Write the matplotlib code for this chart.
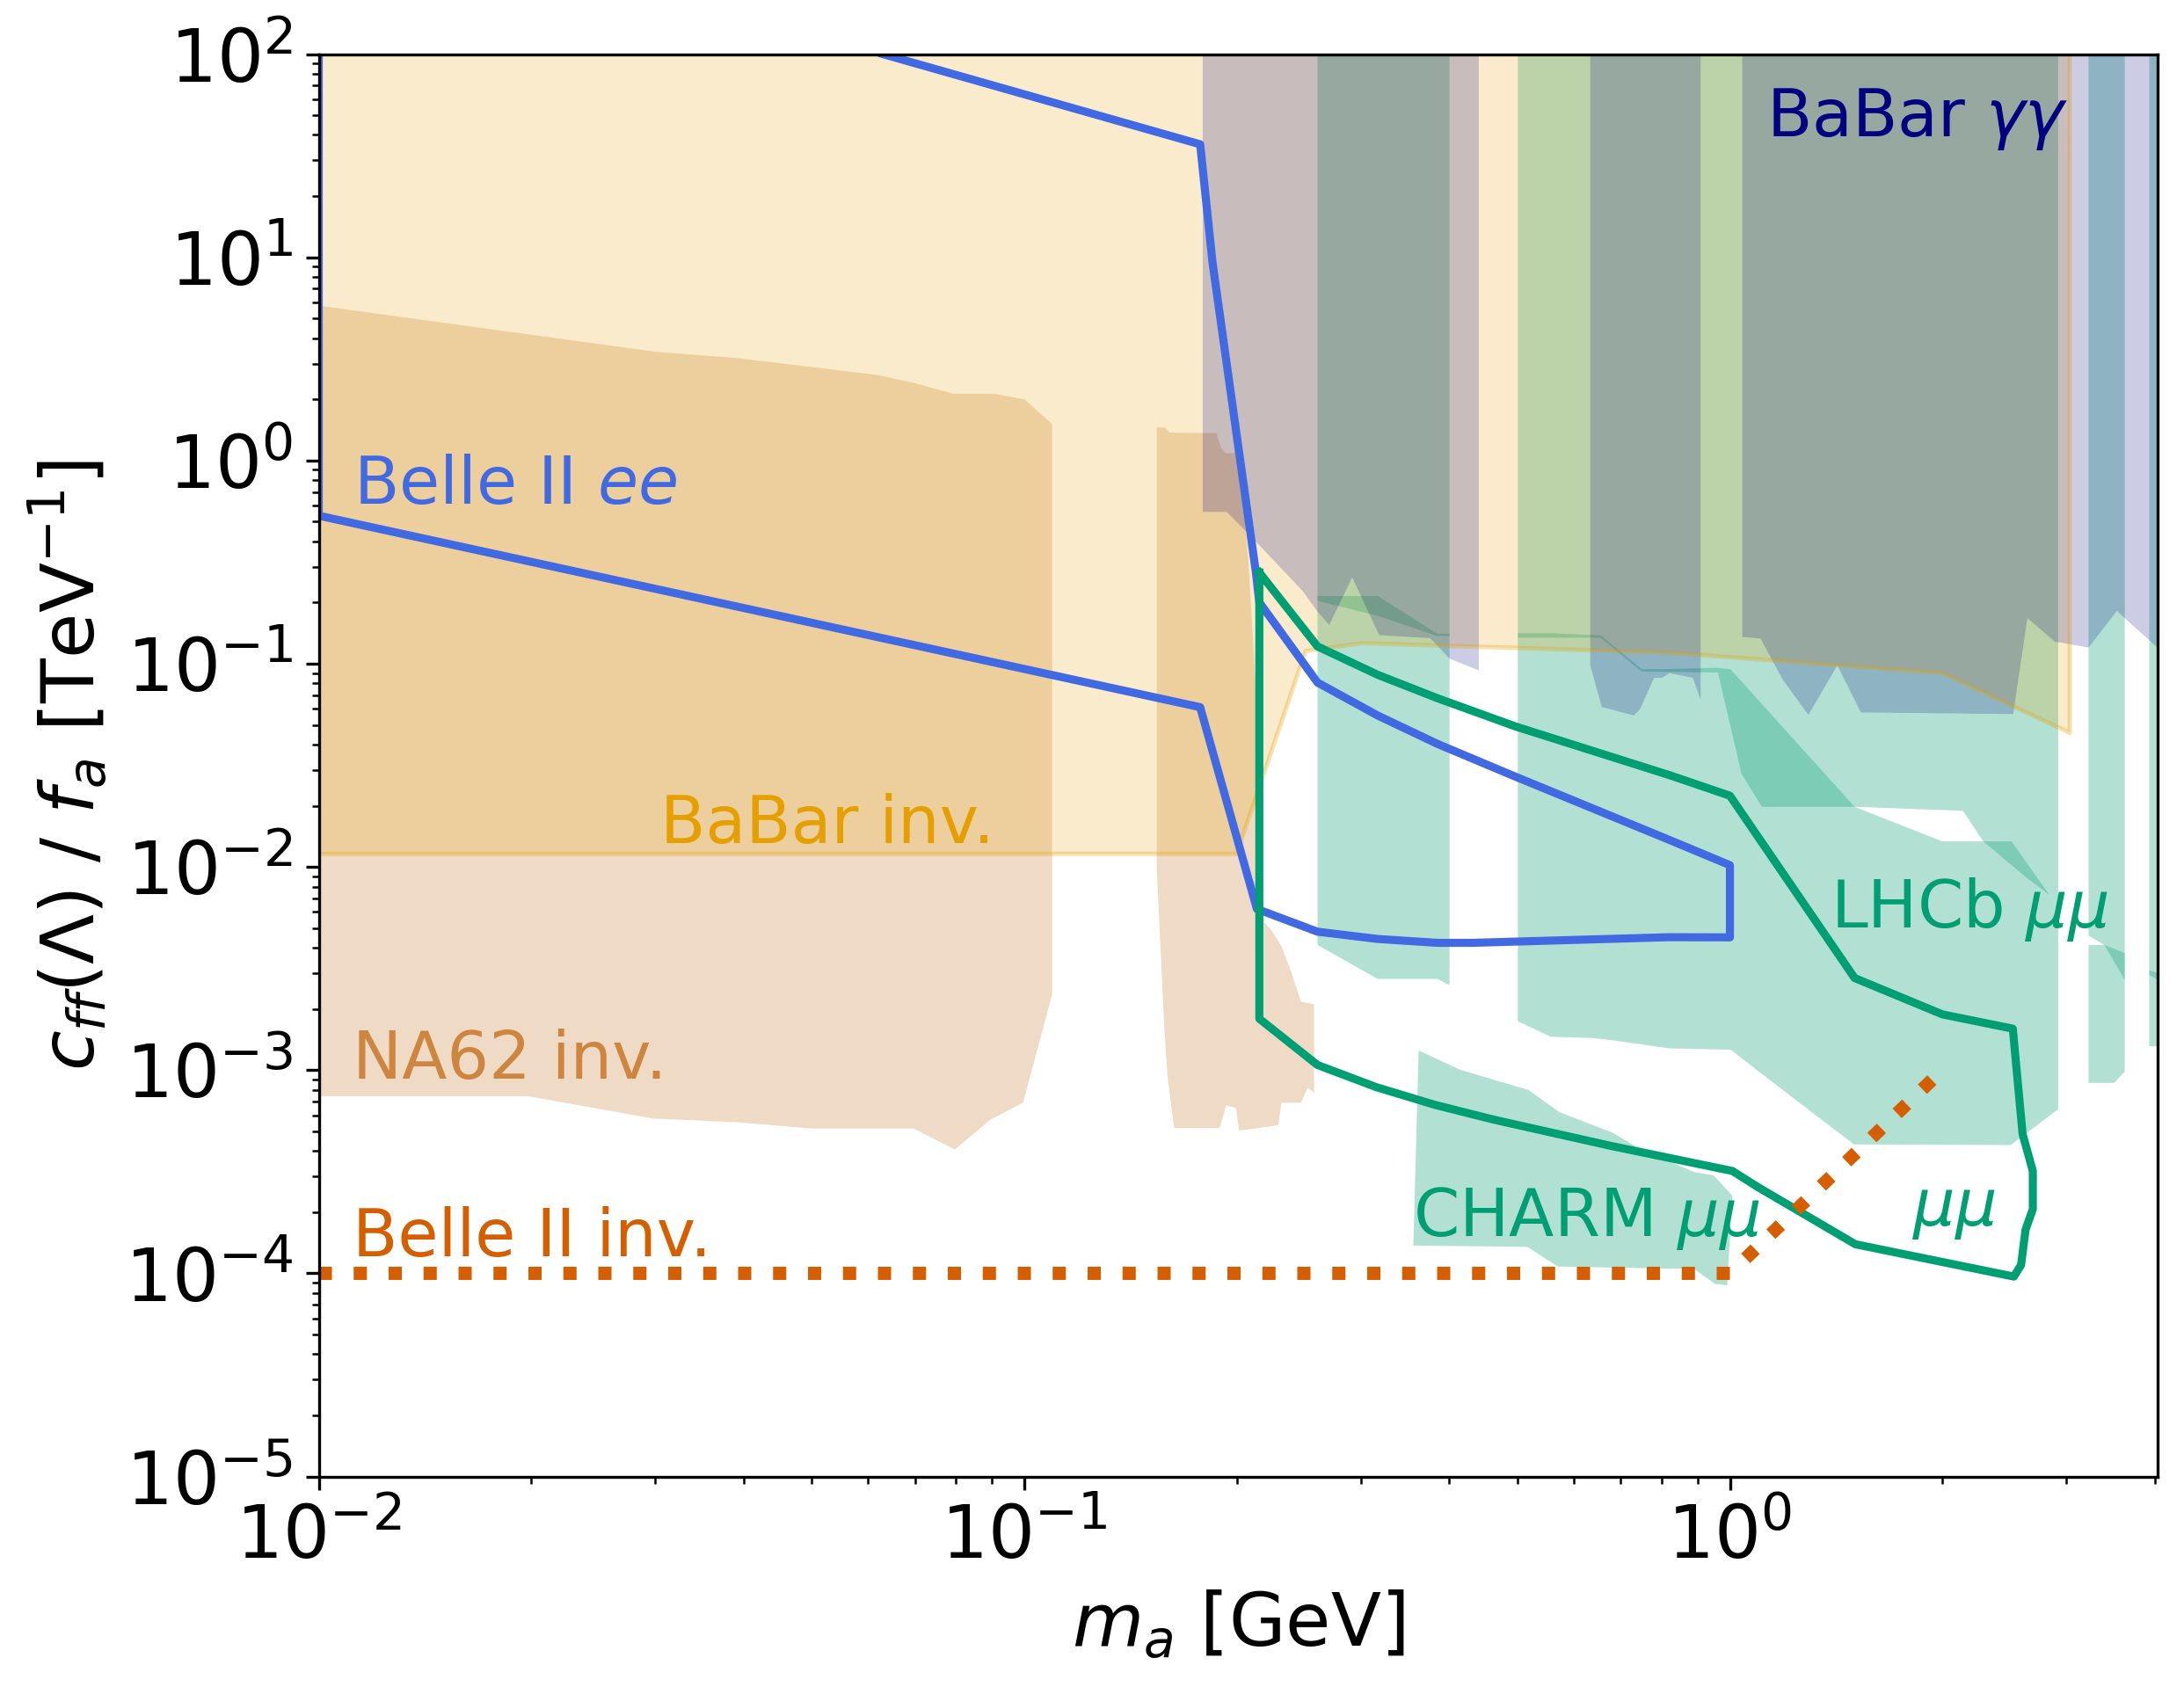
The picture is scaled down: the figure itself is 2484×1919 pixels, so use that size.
import numpy as np
import matplotlib
matplotlib.use("Agg")
import matplotlib.pyplot as plt
from matplotlib.ticker import LogLocator, NullFormatter
from matplotlib.colors import to_rgba

# ------------------------------------------------------------------ data
# BaBar invisible: lower edge of excluded region (excluded up to the top)
babar_inv_x = [0.01, 0.1999, 0.2504, 0.3012, 0.8206, 2.001, 3.032]
babar_inv_y = [0.0116, 0.0116, 0.1155, 0.1262, 0.1133, 0.0899, 0.0457]

# NA62 invisible: two closed contours
na62_a_x = [0.01, 0.03016, 0.03922, 0.0617, 0.0697, 0.0793, 0.0905, 0.1000, 0.1095,
            0.1095, 0.0996, 0.0895, 0.0797, 0.0697, 0.04995, 0.03922, 0.02977, 0.01977, 0.01]
na62_a_y = [5.78, 3.42, 3.19, 2.64, 2.41, 2.13, 2.13, 2.0, 1.51,
            2.36e-3, 6.93e-4, 5.70e-4, 4.07e-4, 5.16e-4, 5.16e-4, 5.54e-4, 5.78e-4, 7.45e-4, 7.45e-4]
na62_b_x = [0.1541, 0.1583, 0.1606, 0.1872, 0.1899, 0.1927, 0.1983, 0.2012, 0.2075, 0.2132,
            0.2148, 0.2242, 0.2314, 0.2388, 0.2466, 0.2574, 0.2574, 0.2520, 0.2466, 0.2314,
            0.2291, 0.2148, 0.2016, 0.1995, 0.1932, 0.1892, 0.1631, 0.1596, 0.1579, 0.1541]
na62_b_y = [1.454, 1.454, 1.372, 1.361, 1.160, 1.086, 1.086, 1.142, 0.338, 0.0697,
            5.75e-3, 4.84e-3, 4.07e-3, 3.06e-3, 2.17e-3, 2.11e-3, 7.75e-4, 8.21e-4, 6.91e-4, 6.91e-4,
            5.36e-4, 5.19e-4, 5.04e-4, 6.53e-4, 6.71e-4, 5.19e-4, 5.19e-4, 9.20e-4, 1.63e-3, 9.63e-3]

# BaBar gamma gamma: lower edges of three excluded bands (excluded up to the top)
bgg_a_x = [0.1790, 0.1935, 0.2070, 0.2481, 0.2603, 0.2705, 0.2915, 0.3184, 0.3762, 0.4005, 0.4406]
bgg_a_y = [0.559, 0.559, 0.4423, 0.2275, 0.1803, 0.1551, 0.2660, 0.1382, 0.1335, 0.1059, 0.0927]
bgg_b_x = [0.6339, 0.6583, 0.7308, 0.7457, 0.7809, 0.8015, 0.8206, 0.8860, 0.9089]
bgg_b_y = [0.0983, 0.0612, 0.0556, 0.0597, 0.0852, 0.0852, 0.0899, 0.0852, 0.0664]
bgg_c_x = [1.041, 1.105, 1.187, 1.292, 1.420, 1.533, 2.520, 2.640, 2.888, 3.223, 3.536, 3.627, 3.929, 4.04]
bgg_c_y = [0.1354, 0.1331, 0.0838, 0.0560, 0.0983, 0.0576, 0.0565, 0.1676, 0.1284, 0.1201,
           0.1820, 0.1676, 0.1306, 0.1194]

# LHCb mu mu, upper part (lower edges, excluded up to the top)
lhcb_u1_x = [0.2603, 0.3168, 0.3851, 0.4005]
lhcb_u1_y = [0.2040, 0.1719, 0.1368, 0.1368]
lhcb_u2_x = [0.5005, 0.6561, 0.7498, 0.8206, 0.9616, 1.0385, 1.110, 1.502, 2.139, 2.286, 2.612, 2.836, 2.919]
lhcb_u2_y = [0.1343, 0.1343, 0.0915, 0.0911, 0.0905, 0.0287, 0.01976, 0.01976, 0.01888, 0.01335,
             9.04e-3, 7.29e-3, 6.71e-3]
lhcb_u3_x = [3.223, 3.393, 3.627]
lhcb_u3_y = [4.59e-3, 4.13e-3, 2.78e-3]
lhcb_u4_x = [3.929, 4.04]
lhcb_u4_y = [2.94e-3, 2.78e-3]

# LHCb mu mu, lower part (upper and lower edges)
lhcb_l1_xhi = [0.2603, 0.3168, 0.3851, 0.4005]
lhcb_l1_yhi = [0.2153, 0.2153, 0.1403, 0.1403]
lhcb_l1_xlo = [0.2603, 0.3168, 0.3851, 0.4005]
lhcb_l1_ylo = [4.13e-3, 2.81e-3, 2.81e-3, 2.62e-3]
lhcb_l2_xhi = [0.5005, 0.5567, 0.6561, 0.7498, 0.8206, 0.9568, 1.002, 1.502, 2.001, 2.507, 2.836, 2.919]
lhcb_l2_yhi = [0.1414, 0.1414, 0.1378, 0.0939, 0.0941, 0.0955, 0.0939, 0.01976, 0.01335, 0.01335,
               7.29e-3, 6.71e-3]
lhcb_l2_xlo = [0.5005, 0.5570, 0.6366, 0.6841, 0.8206, 1.003, 1.093, 1.499, 2.500, 2.919]
lhcb_l2_ylo = [1.74e-3, 1.46e-3, 1.44e-3, 1.40e-3, 1.28e-3, 1.26e-3, 9.98e-4, 4.31e-4, 4.28e-4, 6.42e-4]
lhcb_l3_xhi = [3.223, 3.393, 3.627]
lhcb_l3_yhi = [4.13e-3, 4.13e-3, 3.77e-3]
lhcb_l3_xlo = [3.223, 3.505, 3.615, 3.627]
lhcb_l3_ylo = [8.66e-4, 8.66e-4, 9.74e-4, 9.74e-4]
lhcb_l4_xhi = [3.929, 4.04]
lhcb_l4_yhi = [3.1e-3, 3.0e-3]
lhcb_l4_xlo = [3.929, 4.04]
lhcb_l4_ylo = [1.31e-3, 1.31e-3]

# CHARM mu mu contour
charm_x = [0.3621, 0.4140, 0.5186, 0.5732, 0.6811, 0.7457, 0.8902, 0.9474, 1.008,
           0.9911, 0.9517, 0.8902, 0.5703, 0.5160, 0.3559]
charm_y = [1.25e-3, 1.006e-3, 7.98e-4, 6.21e-4, 4.93e-4, 4.10e-4, 3.15e-4, 3.04e-4, 2.41e-4,
           8.73e-5, 8.88e-5, 1.05e-4, 1.08e-4, 1.35e-4, 1.37e-4]

# Belle II ee projection (open contour)
belle_ee_x = [0.01, 0.01, 0.1775, 0.2136, 0.2603, 0.3168, 0.3851, 0.4311, 0.8206, 1.0, 1.0,
              0.8206, 0.4977, 0.3851, 0.3168, 0.2603, 0.2153, 0.2128, 0.1848, 0.1775, 0.063]
belle_ee_y = [100, 0.535, 0.0611, 6.21e-3, 4.80e-3, 4.42e-3, 4.23e-3, 4.23e-3, 4.51e-3, 4.5e-3, 0.0102,
              0.01358, 0.02772, 0.0403, 0.0556, 0.0808, 0.2004, 0.285, 9.43, 35.97, 100]

# mu mu projection (closed contour)
mumu_x = [0.2153, 0.2603, 0.3168, 0.3851, 0.4977, 0.8206, 1.0, 1.502, 2.001, 2.517, 2.599, 2.687,
          2.687, 2.624, 2.586, 2.526, 1.506, 1.093, 1.008, 0.6776, 0.4622, 0.3817, 0.3152, 0.2603,
          0.2153, 0.2153]
mumu_y = [0.2811, 0.1216, 0.0882, 0.0676, 0.0490, 0.0283, 0.0224, 2.84e-3, 1.88e-3, 1.60e-3,
          4.84e-4, 3.19e-4, 2.07e-4, 1.64e-4, 1.10e-4, 9.64e-5, 1.39e-4, 2.67e-4, 3.19e-4, 4.24e-4,
          5.71e-4, 6.75e-4, 8.25e-4, 1.06e-3, 1.79e-3, 0.2811]

# Belle II invisible projection
belle_inv_x = [0.01, 1.0, 2.0]
belle_inv_y = [1e-4, 1e-4, 1e-3]

# ------------------------------------------------------------------ style
C_ORANGE = "#E69F00"
C_PERU = "#CD853F"
C_TEAL = "#009E73"
C_NAVY = "#000080"
C_BLUE = "#4169E1"
C_VERM = "#D55E00"
TOP = 1e3

plt.rcParams["font.family"] = ["DejaVu Sans"]
plt.rcParams["mathtext.fontset"] = "dejavusans"

fig = plt.figure(figsize=(2484 / 300, 1919 / 300), dpi=300)
ax = fig.add_axes([0.14594, 0.12475, 0.84206, 0.8432])
ax.set_xscale("log")
ax.set_yscale("log")


def upper_band(x, y, color, alpha):
    xs = list(x) + [x[-1], x[0]]
    ys = list(y) + [TOP, TOP]
    ax.fill(xs, ys, color=color, alpha=alpha, lw=0)


def closed_band(xhi, yhi, xlo, ylo, color, alpha):
    xs = list(xhi) + list(xlo[::-1])
    ys = list(yhi) + list(ylo[::-1])
    ax.fill(xs, ys, color=color, alpha=alpha, lw=0)


# NA62 invisible
ax.fill(na62_a_x, na62_a_y, color=C_PERU, alpha=0.3, lw=0)
ax.fill(na62_b_x, na62_b_y, color=C_PERU, alpha=0.3, lw=0)

# LHCb mu mu
for ux, uy in [(lhcb_u1_x, lhcb_u1_y), (lhcb_u2_x, lhcb_u2_y),
               (lhcb_u3_x, lhcb_u3_y), (lhcb_u4_x, lhcb_u4_y)]:
    upper_band(ux, uy, C_TEAL, 0.3)
for xh, yh, xl, yl in [(lhcb_l1_xhi, lhcb_l1_yhi, lhcb_l1_xlo, lhcb_l1_ylo),
                       (lhcb_l2_xhi, lhcb_l2_yhi, lhcb_l2_xlo, lhcb_l2_ylo),
                       (lhcb_l3_xhi, lhcb_l3_yhi, lhcb_l3_xlo, lhcb_l3_ylo),
                       (lhcb_l4_xhi, lhcb_l4_yhi, lhcb_l4_xlo, lhcb_l4_ylo)]:
    closed_band(xh, yh, xl, yl, C_TEAL, 0.3)

# CHARM mu mu
ax.fill(charm_x, charm_y, color=C_TEAL, alpha=0.3, lw=0)

# BaBar invisible
upper_band(babar_inv_x, babar_inv_y, C_ORANGE, 0.2)
ax.plot(babar_inv_x + [babar_inv_x[-1]], babar_inv_y + [TOP],
        color=to_rgba(C_ORANGE, 0.3), lw=1.2)

# BaBar gamma gamma
for bx, by in [(bgg_a_x, bgg_a_y), (bgg_b_x, bgg_b_y), (bgg_c_x, bgg_c_y)]:
    upper_band(bx, by, C_NAVY, 0.2)

# projections
ax.plot(belle_ee_x, belle_ee_y, color=C_BLUE, lw=2.2)
ax.plot(mumu_x, mumu_y, color=C_TEAL, lw=2.2)
ax.plot(belle_inv_x, belle_inv_y, color=C_VERM, lw=3.6, ls=":")

# labels
fs_t = 18
ax.text(0.0112, 0.6105, r"Belle II $ee$", color=C_BLUE, fontsize=fs_t, va="baseline")
ax.text(0.03052, 0.0131, "BaBar inv.", color=C_ORANGE, fontsize=fs_t, va="baseline")
ax.text(0.01116, 9.08e-4, "NA62 inv.", color=C_PERU, fontsize=fs_t, va="baseline")
ax.text(0.01117, 1.214e-4, "Belle II inv.", color=C_VERM, fontsize=fs_t, va="baseline")
ax.text(1.125, 39.56, r"BaBar $\gamma\gamma$", color=C_NAVY, fontsize=fs_t, va="baseline")
ax.text(1.39, 5.02e-3, r"LHCb $\mu\mu$", color=C_TEAL, fontsize=fs_t, va="baseline")
ax.text(0.355, 1.524e-4, r"CHARM $\mu\mu$", color=C_TEAL, fontsize=fs_t, va="baseline")
ax.text(1.815, 1.713e-4, r"$\mu\mu$", color=C_TEAL, fontsize=fs_t, va="baseline")

ax.set_xlim(0.01, 4.04)
ax.set_ylim(1e-5, 1e2)
ax.xaxis.set_major_locator(LogLocator(base=10, numticks=20))
ax.yaxis.set_major_locator(LogLocator(base=10, numticks=20))
ax.xaxis.set_minor_locator(LogLocator(base=10, subs=np.arange(2, 10), numticks=100))
ax.yaxis.set_minor_locator(LogLocator(base=10, subs=np.arange(2, 10), numticks=100))
ax.xaxis.set_minor_formatter(NullFormatter())
ax.yaxis.set_minor_formatter(NullFormatter())
ax.tick_params(labelsize=20)
ax.set_xlabel(r"$m_a$ [GeV]", fontsize=20)
ax.set_ylabel(r"$c_{ff}(\Lambda)$ / $f_a$ [TeV$^{-1}$]", fontsize=20)

fig.savefig("out.png", dpi=300)
